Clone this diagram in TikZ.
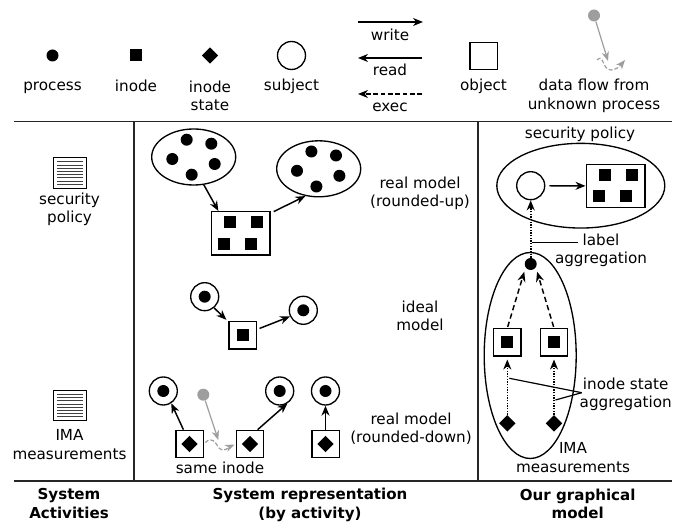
\documentclass[tikz,border=0pt]{standalone}
\usepackage{fontspec}
\setmainfont{DejaVu Sans}
\usetikzlibrary{arrows.meta,shapes.geometric}
\tikzset{
  lbl/.style={font=\fontsize{11.4}{14.1}\selectfont,align=center,inner sep=0pt,yshift=-1.5pt,execute at begin node=\strut,execute at end node=\strut},
  ttl/.style={lbl,font=\fontsize{11.3}{14.1}\selectfont\bfseries},
  dotn/.style={circle,fill=black,inner sep=0pt,minimum size=9pt},
  grayd/.style={circle,fill=black!38,inner sep=0pt,minimum size=9pt},
  sqn/.style={rectangle,fill=black,inner sep=0pt,minimum size=9pt},
  dian/.style={diamond,fill=black,inner sep=0pt,minimum size=12.5pt},
  subj/.style={circle,draw,line width=1pt,inner sep=0pt,minimum size=21pt},
  objb/.style={rectangle,draw,line width=1pt,inner sep=0pt,minimum size=20.5pt},
  set/.style={ellipse,draw,line width=1pt,inner sep=0pt},
  setb/.style={rectangle,draw,line width=1pt,inner sep=0pt,minimum width=44pt,minimum height=32.5pt},
  doc/.style={rectangle,draw,line width=.7pt,inner sep=0pt,minimum width=25pt,minimum height=23pt},
  tip/.style={-{Stealth[length=7.5pt,width=6pt,inset=2.4pt]}},
  wr/.style={tip,line width=1.1pt},
  rd/.style={tip,line width=1.1pt,dash pattern=on 3.5pt off 2pt},
  dt/.style={tip,line width=1.2pt,dash pattern=on 1pt off 1pt},
  gr/.style={-{Stealth[length=7pt,width=5.5pt,inset=2.2pt]},line width=.9pt,black!38},
  grw/.style={gr,dash pattern=on 3pt off 1.5pt},
  rule/.style={line width=1.1pt,black!85},
  lead/.style={line width=.9pt},
}
\newcommand{\docbars}[1]{\foreach \k in {-3.5,-2.5,...,3.5}{\draw[line width=.5pt,black!75] ([xshift=-9.5pt,yshift=\k*2.4pt]#1.center) -- ([xshift=9.5pt,yshift=\k*2.4pt]#1.center);}}
\begin{document}
\begin{tikzpicture}[x=0.75pt,y=-0.75pt]
\useasboundingbox (0,0) rectangle (682,523);
% rules
\coordinate (rl) at (14,121.5); \coordinate (rr) at (672,121.5);
\coordinate (bl) at (14,481); \coordinate (br) at (672,481);
\coordinate (v1t) at (134,121.5); \coordinate (v1b) at (134,481);
\coordinate (v2t) at (478,121.5); \coordinate (v2b) at (478,481);
\draw[rule] (rl) -- (rr); \draw[rule] (bl) -- (br);
\draw[rule] (v1t) -- (v1b); \draw[rule] (v2t) -- (v2b);
% legend
\node[dotn] (lp) at (52.5,55.5) {};
\node[sqn] (li) at (136,55.5) {};
\node[dian] (ls) at (210,55.5) {};
\node[subj] (lsub) at (291.5,55.5) {};
\node[objb] (lobj) at (483.5,56) {};
\node[lbl] at (52.5,85) {process};
\node[lbl] at (136,85.5) {inode};
\node[lbl] at (210,96.5) {inode\\state};
\node[lbl] at (291.5,85) {subject};
\node[lbl] at (483.5,85) {object};
\node[lbl] at (594,95) {data flow from\\unknown process};
\coordinate (wa) at (358,22); \coordinate (wb) at (423,22);
\coordinate (ra) at (422,58); \coordinate (rb) at (358,58);
\coordinate (ea) at (422,94); \coordinate (eb) at (358,94);
\draw[wr] (wa) -- (wb);
\draw[wr] (ra) -- (rb);
\draw[rd] (ea) -- (eb);
\node[lbl] at (390,35) {write};
\node[lbl] at (390,70) {read};
\node[lbl] at (390,106) {exec};
\node[grayd] (lg) at (594,15.5) {};
\coordinate (lge) at (608,61);
\draw[gr] (lg) -- (lge);
\coordinate (lwa) at (597,60); \coordinate (lwb) at (625,60);
\draw[grw] (lwa) .. controls (604,53) and (602,70) .. (611,70) .. controls (616,70) and (620,66) .. (lwb);
% left column
\node[doc] (d1) at (70,173) {}; \docbars{d1}
\node[lbl] at (69.5,208.5) {security\\policy};
\node[doc] (d2) at (70,405.5) {}; \docbars{d2}
\node[lbl] at (69.5,445) {IMA\\measurements};
% rounded-up
\node[set,minimum width=63pt,minimum height=42pt] (e1) at (193.7,157) {};
\foreach \n/\x/\y in {a/186.7/139.7,b/211.3/143.7,c/172.3/159,d/214.7/164,e/191.7/174.7}{\node[dotn] (e1\n) at (\x,\y) {};}
\node[set,minimum width=63pt,minimum height=42pt] (e2) at (318.7,168.8) {};
\foreach \n/\x/\y in {a/311.4/151.5,b/336/155.5,c/297/170.8,d/339.4/175.8,e/316.4/186.5}{\node[dotn] (e2\n) at (\x,\y) {};}
\node[setb] (r1) at (240.7,233.3) {};
\foreach \n/\x/\y in {a/230/222.3,b/256.7/222.3,c/224.3/243.7,d/251/243.7}{\node[sqn] (r1\n) at (\x,\y) {};}
\draw[wr] (e1.-70) -- (r1.135);
\draw[wr,shorten <=2.5pt] (r1.34) -- (e2.-116);
\node[lbl] at (420,192.5) {real model\\(rounded-up)};
% ideal
\node[subj] (i1) at (204.7,296.7) {}; \node[dotn] (i1d) at (i1) {};
\node[subj] (i2) at (303.3,310.3) {}; \node[dotn] (i2d) at (i2) {};
\node[objb] (i3) at (242.7,335.5) {}; \node[sqn] (i3s) at (i3) {};
\draw[wr] (i1.-50) -- ([xshift=-1.5pt,yshift=1pt]i3.north west);
\draw[wr,shorten <=2pt] (i3.23) -- (i2.-155);
\node[lbl] at (420,316.5) {ideal\\model};
% rounded-down
\node[subj] (s1) at (163.3,391) {}; \node[dotn] (s1d) at (s1) {};
\node[subj] (s2) at (279.7,391) {}; \node[dotn] (s2d) at (s2) {};
\node[subj] (s3) at (325.5,391) {}; \node[dotn] (s3d) at (s3) {};
\node[objb] (b1) at (189.5,444) {}; \node[dian] (b1d) at (b1) {};
\node[objb] (b2) at (250,444) {}; \node[dian] (b2d) at (b2) {};
\node[objb] (b3) at (325.5,444) {}; \node[dian] (b3d) at (b3) {};
\node[grayd] (g1) at (203.3,394.7) {};
\draw[wr] (b1.113) -- (s1.-57);
\draw[wr] (b2.62) -- (s2.-58);
\draw[wr] (b3.north) -- (s3.south);
\coordinate (g1e) at (218.3,440);
\draw[gr] (g1) -- (g1e);
\draw[grw,shorten <=1.5pt,shorten >=1pt] (b1.east) .. controls (212,436) and (215,442) .. (219,448) .. controls (224,453) and (229,447) .. (b2.west);
\node[lbl] at (220,467.5) {same inode};
\node[lbl] at (411,428.5) {real model\\(rounded-down)};
% right column
\node[lbl] at (580,133) {security policy};
\node[set,minimum width=126pt,minimum height=63.5pt] (pol) at (580.8,185.7) {};
\node[subj] (ps) at (530.7,185.7) {};
\node[setb] (pr) at (615.5,186) {};
\foreach \n/\x/\y in {a/605/175,b/631.7/175,c/599.3/196.3,d/626/196.3}{\node[sqn] (pr\n) at (\x,\y) {};}
\draw[wr,shorten <=3pt] (ps) -- (pr);
\node[set,minimum width=69pt,minimum height=154.5pt] (ima) at (530.2,355.5) {};
\node[dotn] (la) at (530.7,264) {};
\draw[dt] (la) -- (ps);
\coordinate (l1) at (578.3,242.3); \coordinate (l2) at (532,242.3);
\draw[lead] (l1) -- (l2);
\node[lbl] at (601,249.5) {label\\aggregation};
\node[objb] (q1) at (507.3,342.5) {}; \node[sqn] (q1s) at (q1) {};
\node[objb] (q2) at (554,342.5) {}; \node[sqn] (q2s) at (q2) {};
\node[dian] (t1) at (507.3,423.3) {};
\node[dian] (t2) at (554,423.3) {};
\draw[rd,shorten <=1pt,dash pattern=on 4pt off 2.5pt] (q1.north) -- ([xshift=-4.8pt,yshift=-5.8pt]la.center);
\draw[rd,shorten <=1pt,dash pattern=on 4pt off 2.5pt] (q2.north) -- ([xshift=4.8pt,yshift=-5.8pt]la.center);
\draw[dt] (t1) -- ([yshift=-2pt]q1.south);
\draw[dt] (t2) -- ([yshift=-2pt]q2.south);
\coordinate (ag) at (581.7,392.7);
\coordinate (ag1) at (509.3,378.3); \coordinate (ag2) at (555.5,400);
\draw[lead] (ag) -- (ag1);
\draw[lead] (ag) -- (ag2);
\node[lbl] at (625.7,393.5) {inode state\\aggregation};
\node[lbl] at (573,458.5) {IMA\\measurements};
% titles
\node[ttl] at (69,504) {System\\Activities};
\node[ttl] at (310,504) {System representation\\(by activity)};
\node[ttl] at (577.7,504.5) {Our graphical\\model};
\end{tikzpicture}
\end{document}
